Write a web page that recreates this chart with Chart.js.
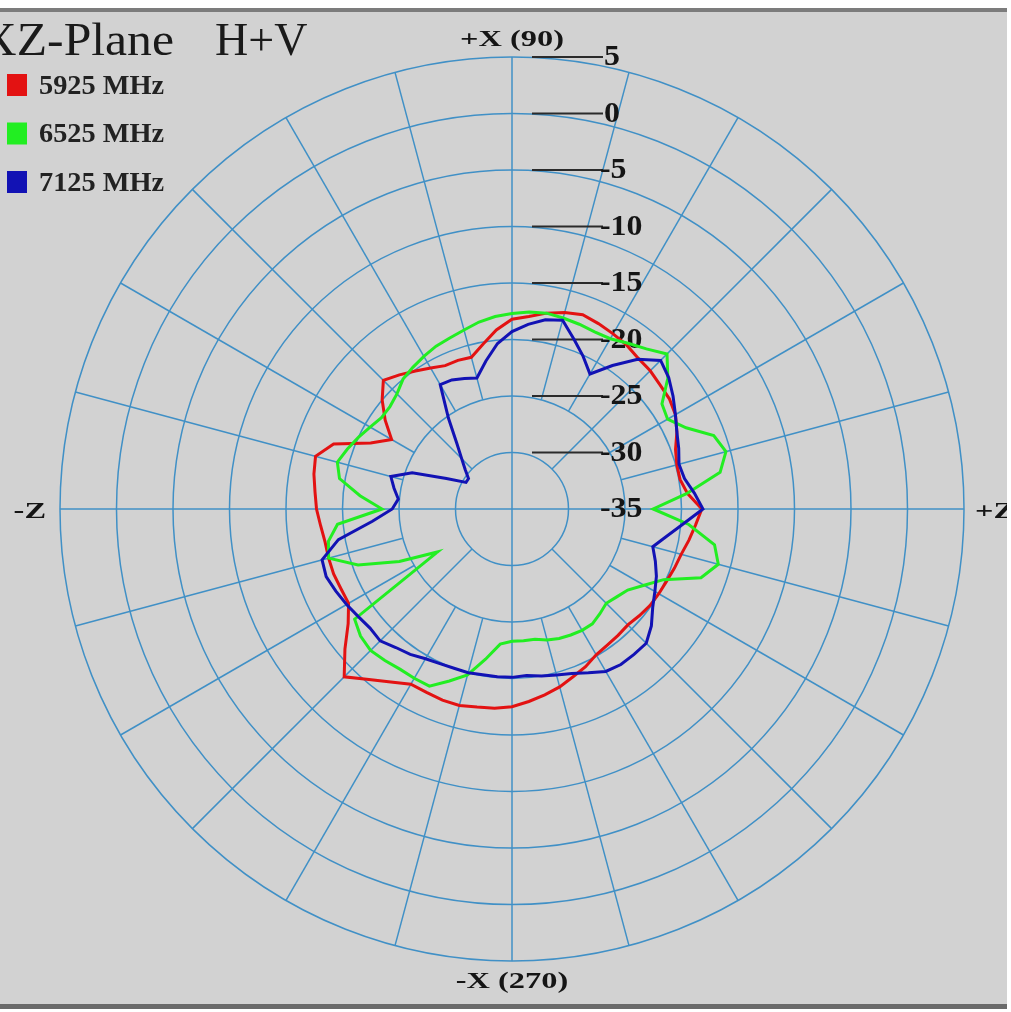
<!DOCTYPE html>
<html><head><meta charset="utf-8">
<script src="https://cdn.jsdelivr.net/npm/chart.js@4.4.1/dist/chart.umd.min.js"></script>
<style>
html,body{margin:0;padding:0;background:#fff;width:1011px;height:1012px;overflow:hidden;}
#panel{position:absolute;left:0;top:9px;width:1007px;height:997px;background:#d2d2d2;}
#topline{position:absolute;left:0;top:8px;width:1007px;height:4px;background:#7c7c7c;}
#botline{position:absolute;left:0;top:1004px;width:1007px;height:5px;background:#6a6a6a;}
#wrap{position:absolute;left:0;top:0;width:1007px;height:1012px;}
</style></head><body>
<div id="panel"></div><div id="topline"></div><div id="botline"></div>
<div id="wrap"><canvas id="c"></canvas></div>
<script>
// angle in degrees, counter-clockwise from +Z (right)
const angles = [0,5,10,15,20,25,30,35,40,45,50,55,60,65,70,75,80,85,90,95,100,105,110,115,120,125,130,135,140,145,150,155,160,165,170,175,180,185,190,195,200,205,210,215,220,225,230,235,240,245,250,255,260,265,270,275,280,285,290,295,300,305,310,315,320,325,330,335,340,345,350,355];
const red5925 = [-18.2,-19.4,-19.9,-19.9,-19.6,-18.9,-18.3,-18.0,-17.9,-17.7,-17.6,-17.3,-17.1,-16.9,-16.7,-17.0,-17.4,-17.9,-18.2,-19.1,-20.2,-21.1,-21.0,-21.0,-20.6,-20.1,-19.5,-18.9,-20.0,-21.3,-22.7,-21.2,-18.2,-17.0,-17.2,-17.5,-17.7,-18.0,-18.2,-18.2,-18.2,-18.3,-18.3,-17.3,-15.7,-14.0,-15.3,-16.3,-17.1,-17.1,-17.0,-17.0,-17.2,-17.3,-17.5,-17.9,-18.3,-18.7,-19.2,-19.6,-20.1,-20.3,-20.4,-20.5,-20.3,-20.1,-20.0,-19.9,-19.7,-19.5,-19.1,-18.7];
const green6525 = [-22.5,-19.5,-16.3,-15.4,-16.0,-18.0,-19.1,-18.8,-17.0,-15.6,-16.5,-17.1,-17.6,-17.7,-17.6,-17.5,-17.4,-17.5,-17.7,-17.9,-18.2,-18.6,-18.9,-19.1,-19.4,-19.7,-20.0,-20.6,-20.9,-20.9,-20.5,-20.0,-19.5,-19.0,-19.5,-21.5,-23.5,-19.5,-18.5,-18.2,-20.5,-24.0,-27.4,-18.0,-17.5,-17.3,-17.5,-17.7,-17.7,-17.7,-18.8,-19.8,-21.5,-23.0,-23.3,-23.3,-23.3,-23.0,-22.8,-22.7,-22.6,-22.6,-22.9,-23.2,-22.9,-22.5,-21.5,-20.2,-17.2,-16.1,-16.8,-19.3];
const blue7125 = [-18.1,-18.8,-19.5,-19.7,-19.3,-18.9,-18.3,-17.6,-16.9,-16.4,-17.7,-19.5,-21.2,-20.1,-19.0,-17.7,-18.0,-18.6,-19.3,-20.3,-21.7,-23.0,-22.7,-22.4,-22.3,-25.2,-27.4,-28.7,-29.6,-30.3,-30.3,-28.6,-25.6,-23.9,-24.4,-24.9,-24.4,-22.6,-19.4,-17.6,-17.5,-17.8,-18.1,-18.4,-18.6,-18.5,-19.0,-19.3,-19.7,-19.9,-20.0,-20.0,-20.1,-20.1,-20.1,-20.2,-20.0,-19.8,-19.5,-19.0,-18.4,-18.2,-18.2,-18.2,-18.9,-19.8,-20.4,-20.9,-21.5,-22.1,-21.1,-19.8];
const seriesNames = ['5925 MHz','6525 MHz','7125 MHz'];
const seriesColors = ['#e31212','#22ee22','#1212b4'];
const radialTicks = [5,0,-5,-10,-15,-20,-25,-30,-35];
const axisLabels = ['+Z','+X (90)','-Z','-X (270)'];
const titleParts = ['XZ-Plane','H+V'];

// Chart.js radar goes clockwise: build the clockwise order from the ccw angle list
const n = angles.length;
const cw = i => (n - i) % n;
const labels = angles.map((a, i) => angles[cw(i)]);
const toCw = arr => arr.map((v, i) => arr[cw(i)]);

function drawText(ctx, text, x, y, font, sx, align, baseline, color) {
  ctx.save();
  ctx.font = font;
  ctx.fillStyle = color || '#151515';
  ctx.textBaseline = baseline || 'alphabetic';
  ctx.textAlign = 'left';
  const w = ctx.measureText(text).width * sx;
  const left = align === 'center' ? x - w / 2 : (align === 'right' ? x - w : x);
  ctx.translate(left, y);
  ctx.scale(sx, 1);
  ctx.fillText(text, 0, 0);
  ctx.restore();
}

const polarDecor = {
  id: 'polarDecor',
  beforeDatasetsDraw(chart) {
    const s = chart.scales.r, ctx = chart.ctx;
    const R = s.drawingArea, cx = s.xCenter, cy = s.yCenter;
    ctx.save();
    // spokes every 15 degrees
    ctx.strokeStyle = '#4090c6';
    ctx.lineWidth = 1.5;
    chart.data.labels.forEach((deg, i) => {
      if (deg % 15 !== 0) return;
      const from = deg % 90 === 0 ? s.min : (deg % 45 === 0 ? s.min + 5 : s.min + 10);
      const a = s.getPointPositionForValue(i, from);
      const b = s.getPointPositionForValue(i, s.max);
      ctx.beginPath(); ctx.moveTo(a.x, a.y); ctx.lineTo(b.x, b.y); ctx.stroke();
    });
    // radial tick labels with leader lines
    ctx.strokeStyle = '#2b2b2b';
    ctx.lineWidth = 1.8;
    radialTicks.forEach(v => {
      const y = cy - s.getDistanceFromCenterForValue(v);
      if (v !== s.min) {
        ctx.beginPath(); ctx.moveTo(cx + 20, y); ctx.lineTo(cx + 91, y); ctx.stroke();
      }
      drawText(ctx, String(v), cx + (v < 0 ? 88 : 92), y + 1, 'bold 29px "Liberation Serif"', 1.1, 'left', 'middle', '#151515');
    });
    // axis direction labels
    const f = 'bold 24px "Liberation Serif"';
    drawText(ctx, axisLabels[0], cx + R + 11, cy + 3, f, 1.35, 'left', 'middle');
    drawText(ctx, axisLabels[1], cx, cy - R - 17, f, 1.35, 'center', 'middle');
    drawText(ctx, axisLabels[2], cx - R - 14, cy + 3, f, 1.35, 'right', 'middle');
    drawText(ctx, axisLabels[3], cx, cy + R + 21, f, 1.35, 'center', 'middle');
    ctx.restore();
  },
  afterDraw(chart) {
    const ctx = chart.ctx;
    ctx.save();
    drawText(ctx, titleParts[0], 174, 55, '46px "Liberation Serif"', 1.08, 'right', 'alphabetic', '#1a1a1a');
    drawText(ctx, titleParts[1], 215, 55, '46px "Liberation Serif"', 1.0, 'left', 'alphabetic', '#1a1a1a');
    chart.data.datasets.forEach((ds, k) => {
      const yc = 85 + k * 48.5;
      ctx.fillStyle = ds.borderColor;
      ctx.fillRect(7, yc - 11, 20, 22);
      drawText(ctx, ds.label, 39, yc + 2, 'bold 27px "Liberation Serif"', 1.05, 'left', 'middle', '#222');
    });
    ctx.restore();
  }
};

new Chart(document.getElementById('c'), {
  type: 'radar',
  data: {
    labels: labels,
    datasets: [
      {label: seriesNames[0], data: toCw(red5925), borderColor: seriesColors[0], order: 3},
      {label: seriesNames[1], data: toCw(green6525), borderColor: seriesColors[1], order: 2},
      {label: seriesNames[2], data: toCw(blue7125), borderColor: seriesColors[2], order: 1}
    ].map(d => Object.assign(d, {backgroundColor: 'transparent', fill: false, borderWidth: 3, pointRadius: 0, tension: 0}))
  },
  options: {
    responsive: true, maintainAspectRatio: false, animation: false, devicePixelRatio: 1,
    events: [],
    layout: {padding: {left: 60, right: 43, top: 57, bottom: 51}},
    plugins: {legend: {display: false}, tooltip: {enabled: false}, title: {display: false}},
    scales: {
      r: {
        min: -35, max: 5, startAngle: 90,
        ticks: {display: false, stepSize: 5},
        grid: {circular: true, color: '#4090c6', lineWidth: 1.5},
        angleLines: {display: false},
        pointLabels: {display: false}
      }
    }
  },
  plugins: [polarDecor]
});
</script>
</body></html>
